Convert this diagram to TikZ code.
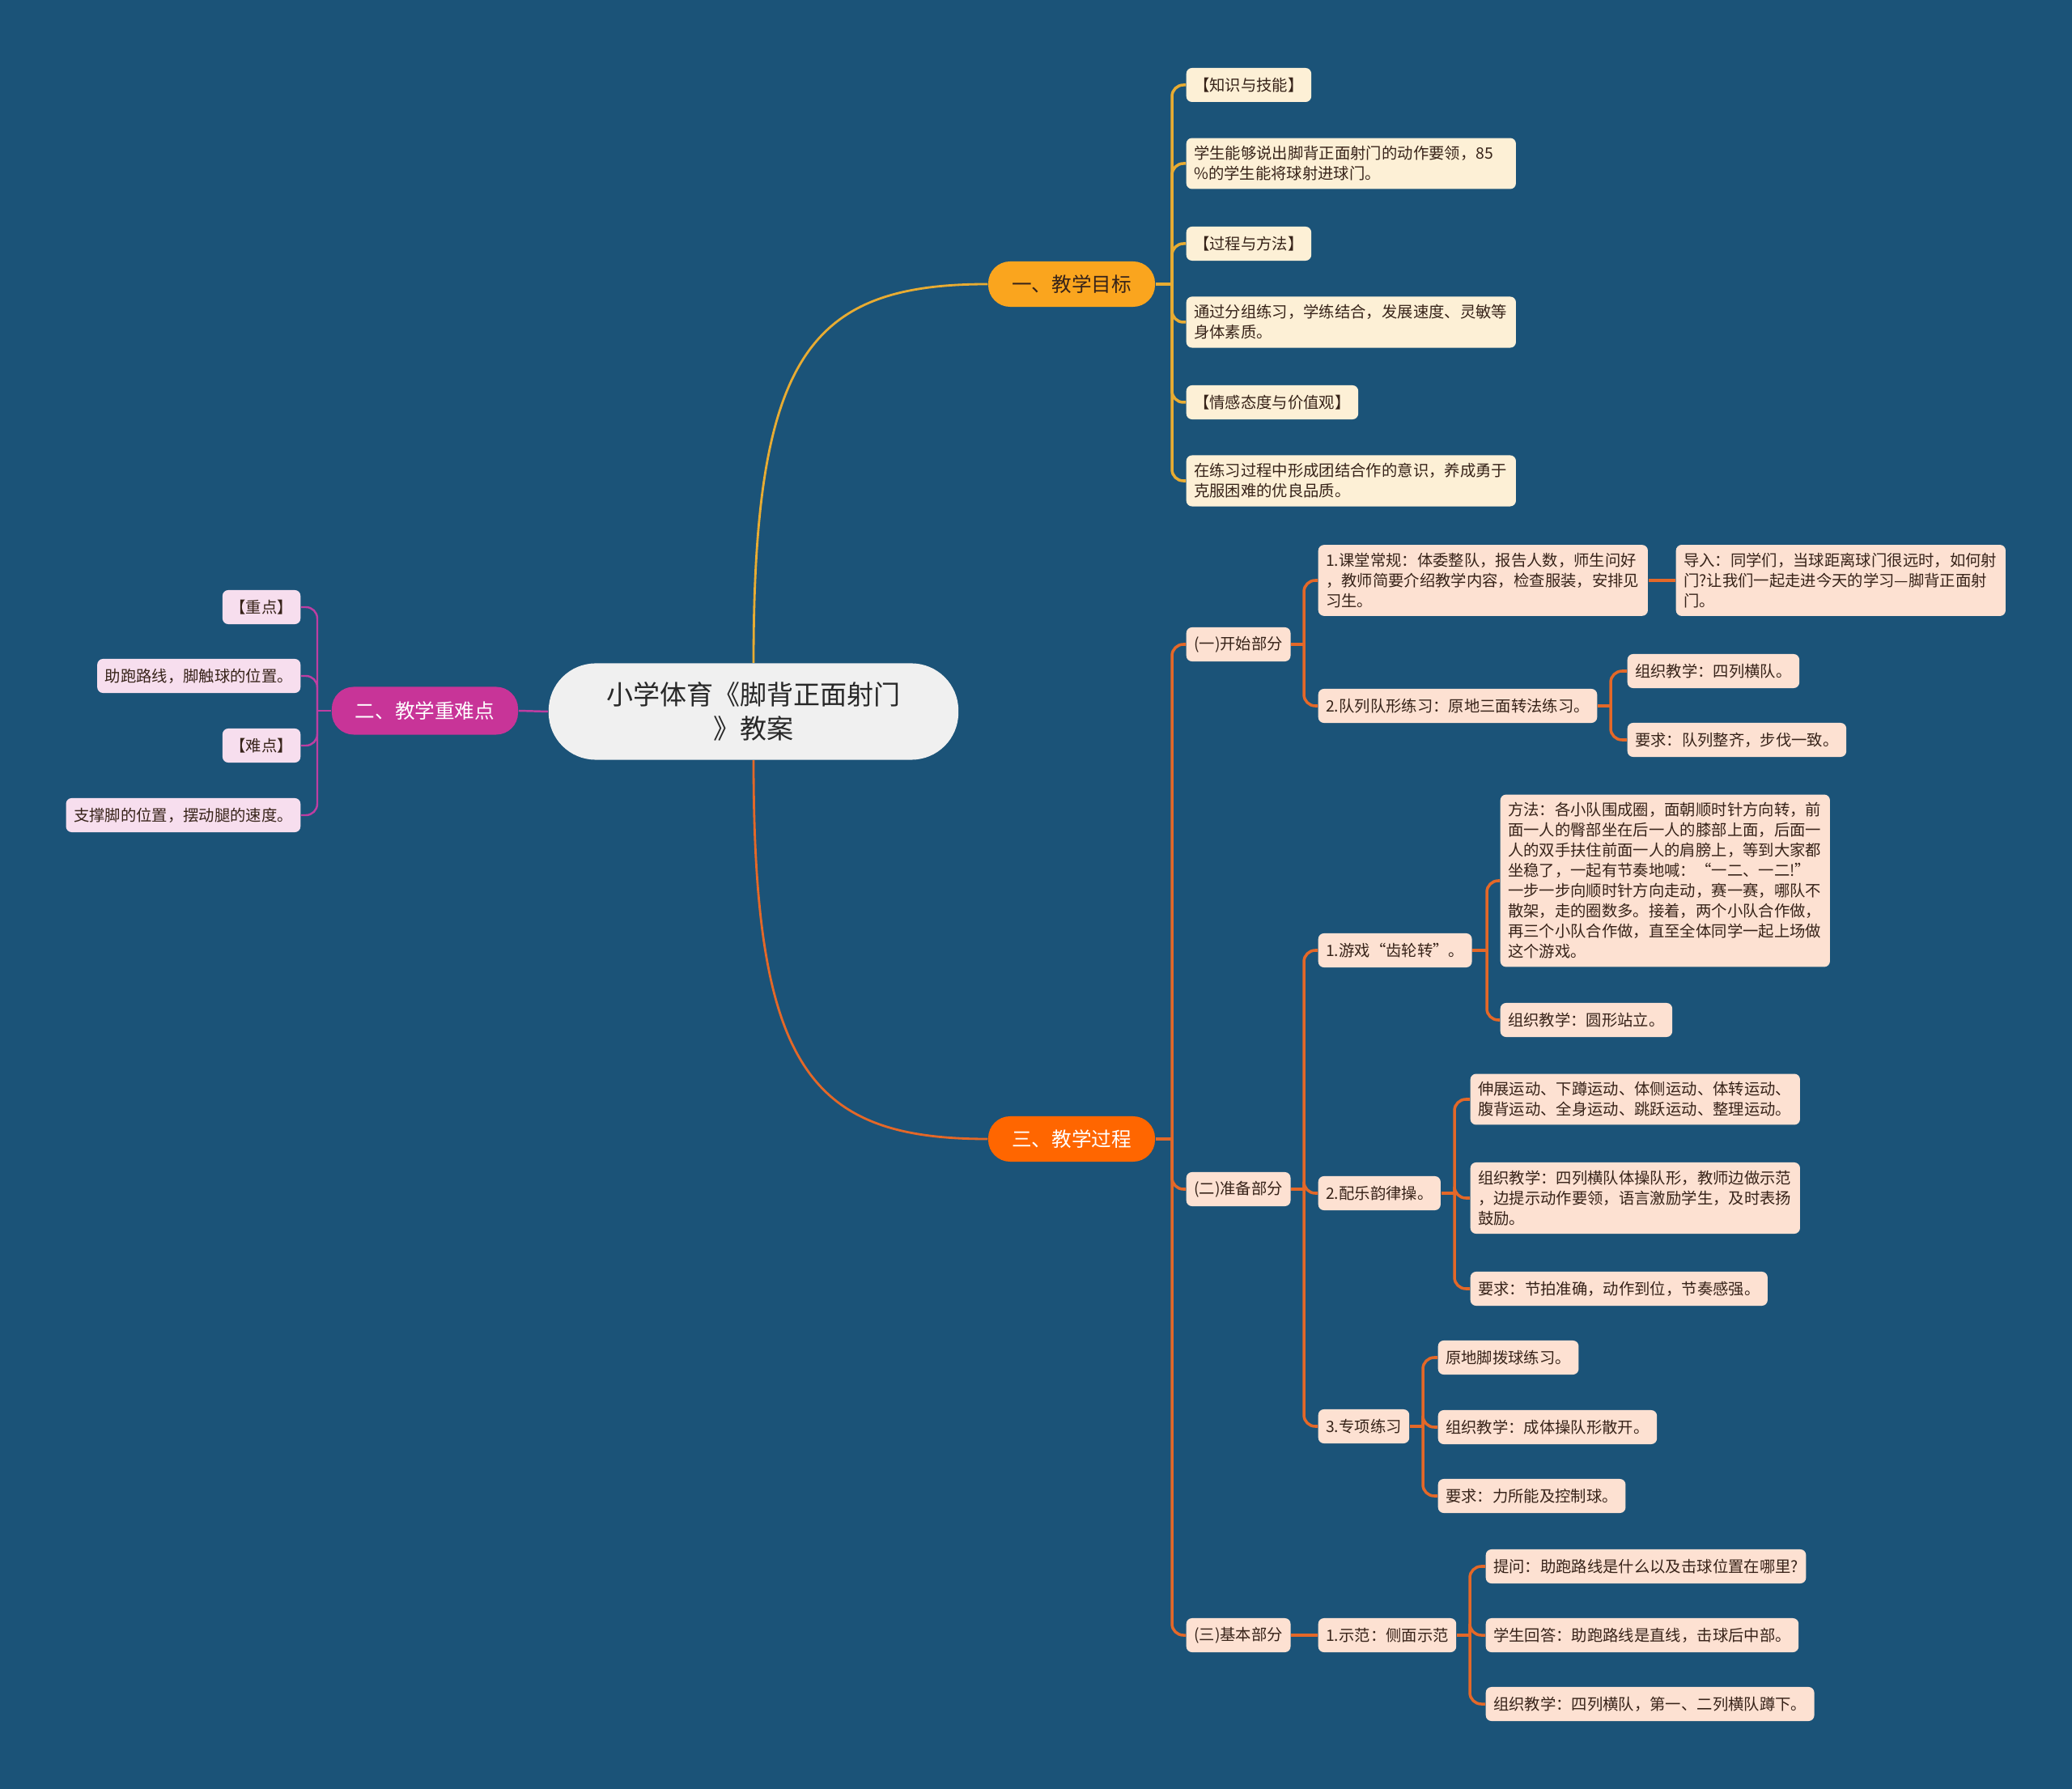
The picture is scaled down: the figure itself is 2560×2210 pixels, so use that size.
\documentclass[tikz,border=0pt]{standalone}
\usepackage{fontspec}
\setmainfont{Noto Sans CJK SC}
\usepackage{xcolor}
\usepackage{tikz}
\definecolor{FondoAzul}   {RGB}{27, 83, 120}
\definecolor{GrisClaro}   {RGB}{240,240,240}
\definecolor{TextoRaiz}   {RGB}{40, 40, 40}
\definecolor{Ambar}       {RGB}{250,165,30}
\definecolor{AmbarLinea}  {RGB}{232,172,50}
\definecolor{Fucsia}      {RGB}{200,52, 152}
\definecolor{FucsiaLinea} {RGB}{190,62, 162}
\definecolor{Naranja}     {RGB}{255,102,0}
\definecolor{NaranjaLinea}{RGB}{228,104,40}
\definecolor{Crema}       {RGB}{253,240,214}
\definecolor{RosaClaro}   {RGB}{247,222,238}
\definecolor{Melocoton}   {RGB}{253,225,210}
\definecolor{TextoOscuro} {RGB}{55, 35, 25}

\begin{document}
\begin{tikzpicture}[x=0.01cm,y=-0.01cm,
    hoja/.style={rounded corners=2pt,inner xsep=0.095cm,inner ysep=0.1cm,minimum height=0.42cm,
      align=left,text=TextoOscuro,font=\fontsize{5.5pt}{7.1pt}\selectfont},
    hojaA/.style={hoja,fill=Crema},
    hojaB/.style={hoja,fill=RosaClaro},
    hojaC/.style={hoja,fill=Melocoton},
    ancho/.style={text width=3.88cm},
    rama/.style={rounded corners=0.27cm,minimum width=2.06cm,minimum height=0.56cm,
      font=\fontsize{7pt}{9pt}\selectfont},
    linA/.style={draw=AmbarLinea,line width=1pt,rounded corners=4pt},
    linB/.style={draw=FucsiaLinea,line width=0.7pt,rounded corners=4pt},
    linC/.style={draw=NaranjaLinea,line width=1pt,rounded corners=4pt}]
  \fill[FondoAzul] (0,0) rectangle (2560,2210);
  \useasboundingbox (0,0) rectangle (2560,2210);

  \node[fill=GrisClaro,text=TextoRaiz,rounded corners=0.58cm,minimum width=5.06cm,minimum height=1.19cm,
    align=center,font=\fontsize{9.4pt}{12pt}\selectfont] (root) at (931,879) {小学体育《脚背正面射门\\》教案};

  \node[rama,fill=Ambar,text=TextoOscuro] (goal) at (1324,351) {一、教学目标};
  \node[rama,fill=Fucsia,text=white,minimum width=2.3cm,minimum height=0.59cm] (keys) at (525,878) {二、教学重难点};
  \node[rama,fill=Naranja,text=white] (proc) at (1324,1407) {三、教学过程};

  \draw[AmbarLinea,line width=0.8pt] (root.north) .. controls +(0,-380) and +(-220,0) .. (goal.west);
  \draw[NaranjaLinea,line width=0.8pt] (root.south) .. controls +(0,380) and +(-220,0) .. (proc.west);
  \draw[FucsiaLinea,line width=0.7pt] (root.west) -- (keys.east);

  \node[hojaA,anchor=west] (a1) at (1465,105) {【知识与技能】};
  \node[hojaA,anchor=west,ancho] (a2) at (1465,202) {学生能够说出脚背正面射门的动作要领，85\\\%的学生能将球射进球门。};
  \node[hojaA,anchor=west] (a3) at (1465,301) {【过程与方法】};
  \node[hojaA,anchor=west,ancho] (a4) at (1465,398) {通过分组练习，学练结合，发展速度、灵敏等\\身体素质。};
  \node[hojaA,anchor=west] (a5) at (1465,497) {【情感态度与价值观】};
  \node[hojaA,anchor=west,ancho] (a6) at (1465,594) {在练习过程中形成团结合作的意识，养成勇于\\克服困难的优良品质。};

  \coordinate (ja) at (1448,351);
  \draw[linA] (goal.east) -- (ja);
  \foreach \h in {a1,a2,a3,a4,a5,a6}
    \draw[linA] (ja) |- (\h.west);

  \node[hojaB,anchor=east] (b1) at (372,750) {【重点】};
  \node[hojaB,anchor=east] (b2) at (372,835) {助跑路线，脚触球的位置。};
  \node[hojaB,anchor=east] (b3) at (372,921) {【难点】};
  \node[hojaB,anchor=east] (b4) at (372,1007) {支撑脚的位置，摆动腿的速度。};

  \coordinate (jb) at (392,878);
  \draw[linB] (keys.west) -- (jb);
  \foreach \h in {b1,b2,b3,b4}
    \draw[linB] (jb) |- (\h.east);

  \node[hojaC,anchor=west] (c1) at (1465,796) {(一)开始部分};
  \node[hojaC,anchor=west] (c2) at (1465,1469) {(二)准备部分};
  \node[hojaC,anchor=west] (c3) at (1465,2020) {(三)基本部分};

  \coordinate (jc) at (1448,1407);
  \draw[linC] (proc.east) -- (jc);
  \foreach \h in {c1,c2,c3}
    \draw[linC] (jc) |- (\h.west);

  \node[hojaC,anchor=west,ancho] (d1) at (1628,717) {1.课堂常规：体委整队，报告人数，师生问好\\，教师简要介绍教学内容，检查服装，安排见\\习生。};
  \node[hojaC,anchor=west] (d2) at (1628,872) {2.队列队形练习：原地三面转法练习。};
  \node[hojaC,anchor=west,ancho] (e1) at (2070,717) {导入：同学们，当球距离球门很远时，如何射\\门?让我们一起走进今天的学习—脚背正面射\\门。};
  \node[hojaC,anchor=west] (e2) at (2010,829) {组织教学：四列横队。};
  \node[hojaC,anchor=west] (e3) at (2010,914) {要求：队列整齐，步伐一致。};

  \coordinate (jc1) at (1611,796);
  \draw[linC] (c1.east) -- (jc1);
  \foreach \h in {d1,d2}
    \draw[linC] (jc1) |- (\h.west);
  \draw[linC] (d1.east) -- (e1.west);
  \coordinate (jd2) at (1990,872);
  \draw[linC] (d2.east) -- (jd2);
  \foreach \h in {e2,e3}
    \draw[linC] (jd2) |- (\h.west);

  \node[hojaC,anchor=west] (d3) at (1628,1174) {1.游戏“齿轮转”。};
  \node[hojaC,anchor=west] (d4) at (1628,1474) {2.配乐韵律操。};
  \node[hojaC,anchor=west] (d5) at (1628,1762) {3.专项练习};

  \coordinate (jc2) at (1611,1469);
  \draw[linC] (c2.east) -- (jc2);
  \foreach \h in {d3,d4,d5}
    \draw[linC] (jc2) |- (\h.west);

  \node[hojaC,anchor=west,ancho] (f1) at (1853,1088) {方法：各小队围成圈，面朝顺时针方向转，前\\面一人的臀部坐在后一人的膝部上面，后面一\\人的双手扶住前面一人的肩膀上，等到大家都\\坐稳了，一起有节奏地喊：“一二、一二!”\\一步一步向顺时针方向走动，赛一赛，哪队不\\散架，走的圈数多。接着，两个小队合作做，\\再三个小队合作做，直至全体同学一起上场做\\这个游戏。};
  \node[hojaC,anchor=west] (f2) at (1853,1260) {组织教学：圆形站立。};

  \coordinate (jd3) at (1837,1174);
  \draw[linC] (d3.east) -- (jd3);
  \foreach \h in {f1,f2}
    \draw[linC] (jd3) |- (\h.west);

  \node[hojaC,anchor=west,ancho] (m1) at (1816,1358) {伸展运动、下蹲运动、体侧运动、体转运动、\\腹背运动、全身运动、跳跃运动、整理运动。};
  \node[hojaC,anchor=west,ancho] (m2) at (1816,1480) {组织教学：四列横队体操队形，教师边做示范\\，边提示动作要领，语言激励学生，及时表扬\\鼓励。};
  \node[hojaC,anchor=west] (m3) at (1816,1592) {要求：节拍准确，动作到位，节奏感强。};

  \coordinate (jd4) at (1797,1474);
  \draw[linC] (d4.east) -- (jd4);
  \foreach \h in {m1,m2,m3}
    \draw[linC] (jd4) |- (\h.west);

  \node[hojaC,anchor=west] (n1) at (1776,1677) {原地脚拨球练习。};
  \node[hojaC,anchor=west] (n2) at (1776,1763) {组织教学：成体操队形散开。};
  \node[hojaC,anchor=west] (n3) at (1776,1848) {要求：力所能及控制球。};

  \coordinate (jd5) at (1758,1762);
  \draw[linC] (d5.east) -- (jd5);
  \foreach \h in {n1,n2,n3}
    \draw[linC] (jd5) |- (\h.west);

  \node[hojaC,anchor=west] (d6) at (1628,2020) {1.示范：侧面示范};
  \node[hojaC,anchor=west] (s1) at (1835,1935) {提问：助跑路线是什么以及击球位置在哪里?};
  \node[hojaC,anchor=west] (s2) at (1835,2020) {学生回答：助跑路线是直线，击球后中部。};
  \node[hojaC,anchor=west] (s3) at (1835,2105) {组织教学：四列横队，第一、二列横队蹲下。};

  \draw[linC] (c3.east) -- (d6.west);
  \coordinate (jd6) at (1816,2020);
  \draw[linC] (d6.east) -- (jd6);
  \foreach \h in {s1,s2,s3}
    \draw[linC] (jd6) |- (\h.west);
\end{tikzpicture}
\end{document}
